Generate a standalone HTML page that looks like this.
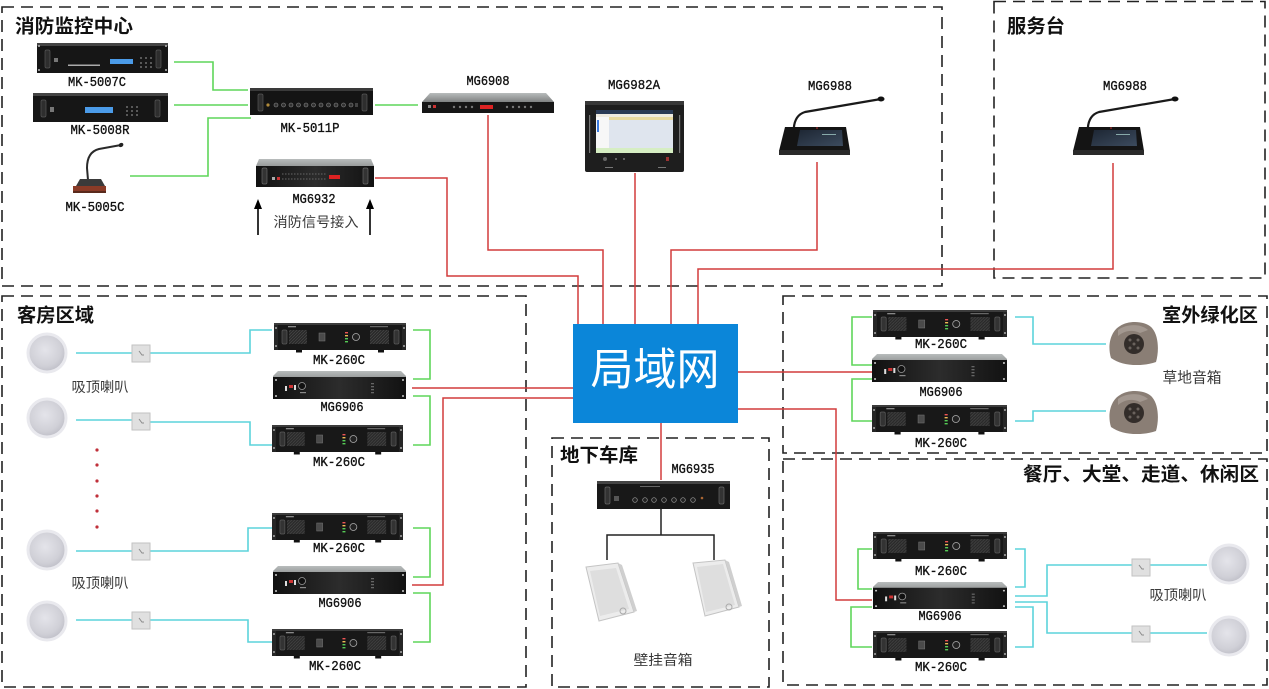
<!DOCTYPE html>
<html><head><meta charset="utf-8"><style>
html,body{margin:0;padding:0;background:#fff;width:1269px;height:689px;overflow:hidden;}
svg{display:block;}
.t{font-family:"Liberation Sans","Noto Sans CJK SC",sans-serif;font-weight:700;font-size:19px;fill:#111;}
.m{font-family:"Liberation Mono","Noto Sans CJK SC",monospace;font-size:14px;fill:#111;stroke:#111;stroke-width:0.35;}
.c{font-family:"Liberation Sans","Noto Sans CJK SC",sans-serif;font-size:14px;fill:#3a3a3a;}
.d{fill:none;stroke:#222;stroke-width:1.6;stroke-dasharray:12 7;}
.r{fill:none;stroke:#d23c3c;stroke-width:1.5;}
.g{fill:none;stroke:#5fd65a;stroke-width:1.6;}
.cy{fill:none;stroke:#5cd3db;stroke-width:1.6;}
.k{fill:none;stroke:#222;stroke-width:1.5;}
</style></head><body>
<svg width="1269" height="689" viewBox="0 0 1269 689" xmlns="http://www.w3.org/2000/svg">
<defs>
<pattern id="grill" width="3" height="3" patternUnits="userSpaceOnUse"><rect width="3" height="3" fill="#2a2a2a"/><path d="M0,3 L3,0" stroke="#4c4c4c" stroke-width="0.6"/></pattern>
<linearGradient id="lid" x1="0" y1="0" x2="0" y2="1"><stop offset="0" stop-color="#b8bcbc"/><stop offset="1" stop-color="#3a3a3a"/></linearGradient>
<linearGradient id="front" x1="0" y1="0" x2="1" y2="0"><stop offset="0" stop-color="#111"/><stop offset="0.5" stop-color="#2c2c2c"/><stop offset="1" stop-color="#121212"/></linearGradient>
<radialGradient id="spk" cx="0.45" cy="0.42" r="0.6"><stop offset="0" stop-color="#e4e4ea"/><stop offset="0.7" stop-color="#d0d0d7"/><stop offset="1" stop-color="#bdbdc6"/></radialGradient>
<linearGradient id="scr" x1="0" y1="0" x2="1" y2="1"><stop offset="0" stop-color="#1d2633"/><stop offset="1" stop-color="#3c4b5e"/></linearGradient>

<symbol id="amp" viewBox="0 0 132 30" preserveAspectRatio="none">
<rect x="0" y="0" width="132" height="27" fill="#181818"/>
<rect x="0" y="0" width="132" height="2" fill="#3c3c3c"/>
<rect x="0" y="2" width="4" height="25" fill="#262626"/>
<rect x="128" y="2" width="4" height="25" fill="#262626"/>
<circle cx="2" cy="5" r="1" fill="#aaa"/><circle cx="2" cy="23" r="1" fill="#aaa"/>
<circle cx="130" cy="5" r="1" fill="#aaa"/><circle cx="130" cy="23" r="1" fill="#aaa"/>
<rect x="8" y="7" width="5" height="14" rx="1.5" fill="#333" stroke="#5a5a5a" stroke-width="0.7"/>
<rect x="120" y="7" width="5" height="14" rx="1.5" fill="#333" stroke="#5a5a5a" stroke-width="0.7"/>
<rect x="15" y="7" width="18" height="14" fill="url(#grill)"/>
<rect x="96" y="7" width="19" height="14" fill="url(#grill)"/>
<rect x="14" y="3" width="8" height="1.3" fill="#888"/>
<rect x="96" y="3" width="18" height="1.2" fill="#666"/>
<rect x="45" y="10" width="6" height="8" fill="#4a4a4a" stroke="#777" stroke-width="0.5"/>
<rect x="71" y="9" width="3" height="1.4" fill="#e55"/><rect x="71" y="12" width="3" height="1.4" fill="#eb5"/>
<rect x="71" y="15" width="3" height="1.4" fill="#5c5"/><rect x="71" y="18" width="3" height="1.4" fill="#5c5"/>
<circle cx="82" cy="14" r="3.5" fill="#222" stroke="#aaa" stroke-width="0.8"/>
<rect x="22" y="27" width="6" height="2.5" fill="#111"/><rect x="104" y="27" width="6" height="2.5" fill="#111"/>
</symbol>

<symbol id="g906" viewBox="0 0 133 28" preserveAspectRatio="none">
<path d="M5,0 H128 L133,5 V28 H0 V5 Z" fill="url(#lid)"/>
<rect x="0" y="6" width="133" height="22" fill="url(#front)"/>
<circle cx="3" cy="9" r="1" fill="#ccc"/><circle cx="3" cy="25" r="1" fill="#ccc"/>
<circle cx="130" cy="9" r="1" fill="#ccc"/><circle cx="130" cy="25" r="1" fill="#ccc"/>
<rect x="12" y="15" width="2" height="5" fill="#ddd"/><rect x="16" y="14" width="4" height="3" fill="#c33"/>
<rect x="21" y="14" width="2" height="5" fill="#ddd"/>
<circle cx="29" cy="15" r="3.5" fill="#111" stroke="#999" stroke-width="0.8"/>
<rect x="27" y="21" width="6" height="1.2" fill="#888"/>
<rect x="98" y="12" width="3" height="1.3" fill="#666"/><rect x="98" y="15" width="3" height="1.3" fill="#666"/>
<rect x="98" y="18" width="3" height="1.3" fill="#666"/><rect x="98" y="21" width="3" height="1.3" fill="#666"/>
</symbol>
</defs>

<rect width="1269" height="689" fill="#fff"/>

<!-- dashed zones -->
<rect class="d" x="2" y="7" width="940" height="279"/>
<rect class="d" x="994" y="1.5" width="271" height="276.5"/>
<rect class="d" x="2" y="296" width="524" height="391"/>
<rect class="d" x="552" y="438" width="217" height="249"/>
<rect class="d" x="783" y="296" width="484" height="157"/>
<rect class="d" x="783" y="459" width="484" height="226"/>

<!-- titles -->
<text class="t" x="15" y="27" dominant-baseline="central" textLength="118" lengthAdjust="spacingAndGlyphs">消防监控中心</text>
<text class="t" x="1007" y="27" dominant-baseline="central" textLength="58" lengthAdjust="spacingAndGlyphs">服务台</text>
<text class="t" x="17" y="316" dominant-baseline="central" textLength="77" lengthAdjust="spacingAndGlyphs">客房区域</text>
<text class="t" x="560" y="456" dominant-baseline="central" textLength="78" lengthAdjust="spacingAndGlyphs">地下车库</text>
<text class="t" x="1162" y="316" dominant-baseline="central" textLength="96" lengthAdjust="spacingAndGlyphs">室外绿化区</text>
<text class="t" x="1023" y="475" dominant-baseline="central" textLength="236" lengthAdjust="spacingAndGlyphs">餐厅、大堂、走道、休闲区</text>

<!-- red network lines -->
<path class="r" d="M375,178 H447 V276 H578 V324"/>
<path class="r" d="M488,115 V250 H603 V324"/>
<path class="r" d="M635,173 V324"/>
<path class="r" d="M817,162 V250 H671 V324"/>
<path class="r" d="M1113,163 V269 H698 V324"/>
<path class="r" d="M412,388 H573"/>
<path class="r" d="M412,585 H443 V398 H573"/>
<path class="r" d="M738,372 H872"/>
<path class="r" d="M738,409 H836 V600 H872"/>
<path class="r" d="M661,423 V480"/>

<!-- green lines -->
<path class="g" d="M174,62 H213 V90 H248"/>
<path class="g" d="M174,105 H248"/>
<path class="g" d="M130,176 H208 V118 H251"/>
<path class="g" d="M375,105 H418"/>
<path class="g" d="M413,330 H430 V379 H413"/>
<path class="g" d="M413,396 H430 V445 H413"/>
<path class="g" d="M413,528 H430 V577 H413"/>
<path class="g" d="M413,593 H430 V642 H413"/>
<path class="g" d="M872,317 H852 V365 H872"/>
<path class="g" d="M872,379 H852 V421 H872"/>
<path class="g" d="M872,549 H858 V589 H872"/>
<path class="g" d="M872,607 H851 V647 H872"/>

<!-- cyan lines -->
<path class="cy" d="M76,353 H132 M150,353 H250 V330 H272"/>
<path class="cy" d="M76,420 H132 M150,422 H250 V445 H272"/>
<path class="cy" d="M76,551 H132 M150,551 H248 V528 H272"/>
<path class="cy" d="M76,620 H132 M150,620 H248 V642 H272"/>
<path class="cy" d="M1015,317 H1033 V344 H1106"/>
<path class="cy" d="M1015,421 H1033 V411 H1106"/>
<path class="cy" d="M1015,549 H1025 V587 H1015"/>
<path class="cy" d="M1015,607 H1033 V647 H1015"/>
<path class="cy" d="M1015,596 H1047 V565 H1132"/>
<path class="cy" d="M1015,602 H1047 V633 H1132"/>
<path class="cy" d="M1150,565 H1207 M1150,633 H1207"/>

<!-- black lines garage -->
<path class="k" d="M661,509 V535 M607,560 V535 H714 V560"/>

<!-- LAN -->
<rect x="573" y="324" width="165" height="99" fill="#0b86d9"/>
<text x="655" y="370" text-anchor="middle" dominant-baseline="central" textLength="129" lengthAdjust="spacingAndGlyphs" style="font-family:'Liberation Sans','Noto Sans CJK SC',sans-serif;font-size:44px;fill:#fff;">局域网</text>

<!-- MK-5007C -->
<rect x="37" y="43" width="131" height="30" fill="#161616"/>
<rect x="37" y="43" width="131" height="3" fill="#444"/>
<rect x="45" y="50" width="5" height="18" rx="1.5" fill="#2e2e2e" stroke="#555" stroke-width="0.7"/>
<rect x="156" y="50" width="5" height="18" rx="1.5" fill="#2e2e2e" stroke="#555" stroke-width="0.7"/>
<circle cx="39" cy="46" r="1" fill="#bbb"/><circle cx="39" cy="70" r="1" fill="#bbb"/><circle cx="166" cy="46" r="1" fill="#bbb"/><circle cx="166" cy="70" r="1" fill="#bbb"/>
<rect x="54" y="58" width="4" height="4" fill="#777"/>
<rect x="68" y="64.5" width="32" height="1.5" fill="#aaa"/>
<rect x="110" y="59" width="23" height="5" fill="#4b9be8"/>
<g fill="#888"><circle cx="141" cy="58" r="0.9"/><circle cx="146" cy="58" r="0.9"/><circle cx="151" cy="58" r="0.9"/><circle cx="141" cy="63" r="0.9"/><circle cx="146" cy="63" r="0.9"/><circle cx="151" cy="63" r="0.9"/><circle cx="141" cy="67" r="0.9"/><circle cx="146" cy="67" r="0.9"/><circle cx="151" cy="67" r="0.9"/></g>
<text class="m" x="97" y="83" text-anchor="middle" dominant-baseline="central" textLength="58" lengthAdjust="spacingAndGlyphs">MK-5007C</text>

<!-- MK-5008R -->
<rect x="33" y="93" width="135" height="29" fill="#161616"/>
<rect x="33" y="93" width="135" height="3" fill="#444"/>
<rect x="41" y="100" width="5" height="17" rx="1.5" fill="#2e2e2e" stroke="#555" stroke-width="0.7"/>
<rect x="155" y="100" width="5" height="17" rx="1.5" fill="#2e2e2e" stroke="#555" stroke-width="0.7"/>
<rect x="50" y="107" width="4" height="5" fill="#777"/>
<rect x="85" y="107" width="28" height="6" fill="#4b9be8"/>
<g fill="#888"><circle cx="127" cy="107" r="0.9"/><circle cx="132" cy="107" r="0.9"/><circle cx="137" cy="107" r="0.9"/><circle cx="127" cy="111" r="0.9"/><circle cx="132" cy="111" r="0.9"/><circle cx="137" cy="111" r="0.9"/><circle cx="127" cy="115" r="0.9"/><circle cx="132" cy="115" r="0.9"/><circle cx="137" cy="115" r="0.9"/></g>
<text class="m" x="100" y="131" text-anchor="middle" dominant-baseline="central" textLength="59" lengthAdjust="spacingAndGlyphs">MK-5008R</text>

<!-- MK-5005C mic -->
<path d="M88,180 L87,168 Q87,152 99,149 L121,145" fill="none" stroke="#2a2a2a" stroke-width="2"/>
<ellipse cx="121" cy="145" rx="2.5" ry="2" fill="#222" transform="rotate(-30 121 145)"/>
<path d="M76,186 L80,179 H101 L105,186 Z" fill="#3a3a3a"/>
<path d="M73,186 H106 V192 H73 Z" fill="#8a3b27"/>
<rect x="73" y="191" width="33" height="2" fill="#5a2a1c"/>
<text class="m" x="95" y="208" text-anchor="middle" dominant-baseline="central" textLength="59" lengthAdjust="spacingAndGlyphs">MK-5005C</text>

<!-- MK-5011P -->
<rect x="250" y="88" width="123" height="27" fill="#141414"/>
<rect x="250" y="88" width="123" height="3" fill="#3a3a3a"/>
<rect x="258" y="94" width="5" height="17" rx="1.5" fill="#2e2e2e" stroke="#555" stroke-width="0.7"/>
<rect x="362" y="94" width="5" height="17" rx="1.5" fill="#2e2e2e" stroke="#555" stroke-width="0.7"/>
<circle cx="268" cy="105" r="1.6" fill="#b08a3a"/>
<g fill="#333" stroke="#888" stroke-width="0.6"><circle cx="276" cy="105" r="2"/><circle cx="283.5" cy="105" r="2"/><circle cx="291" cy="105" r="2"/><circle cx="298.5" cy="105" r="2"/><circle cx="306" cy="105" r="2"/><circle cx="313.5" cy="105" r="2"/><circle cx="321" cy="105" r="2"/><circle cx="328.5" cy="105" r="2"/><circle cx="336" cy="105" r="2"/><circle cx="343.5" cy="105" r="2"/><circle cx="351" cy="105" r="2"/></g>
<rect x="355" y="103" width="3" height="4" fill="#444"/>
<text class="m" x="310" y="129" text-anchor="middle" dominant-baseline="central" textLength="59" lengthAdjust="spacingAndGlyphs">MK-5011P</text>

<!-- MG6932 -->
<path d="M259,159 H371 L374,166 V187 H256 V166 Z" fill="url(#lid)"/>
<rect x="256" y="166" width="118" height="21" fill="url(#front)"/>
<rect x="262" y="168" width="5" height="16" rx="1.5" fill="#333" stroke="#666" stroke-width="0.7"/>
<rect x="363" y="168" width="5" height="16" rx="1.5" fill="#333" stroke="#666" stroke-width="0.7"/>
<rect x="272" y="177" width="3" height="3" fill="#aaa"/><rect x="277" y="177" width="3" height="3" fill="#c33"/>
<path d="M282,174 H327 M282,179 H327" stroke="#666" stroke-width="1" stroke-dasharray="1.5 1.5"/>
<rect x="329" y="175" width="11" height="4" fill="#d22"/>
<text class="m" x="314" y="200" text-anchor="middle" dominant-baseline="central" textLength="43" lengthAdjust="spacingAndGlyphs">MG6932</text>
<text class="c" x="316" y="222" text-anchor="middle" dominant-baseline="central" textLength="85" lengthAdjust="spacingAndGlyphs">消防信号接入</text>
<!-- arrows -->
<path d="M258,235 V206" stroke="#000" stroke-width="1.6"/>
<path d="M254,209 L258,199 L262,209 Z" fill="#000"/>
<path d="M370,235 V206" stroke="#000" stroke-width="1.6"/>
<path d="M366,209 L370,199 L374,209 Z" fill="#000"/>

<!-- MG6908 -->
<path d="M430,93 H546 L554,102 V113 H422 V102 Z" fill="url(#lid)"/>
<rect x="422" y="102" width="132" height="11" fill="#161616"/>
<rect x="428" y="105" width="3" height="3" fill="#888"/><rect x="433" y="105" width="3" height="3" fill="#c33"/>
<g fill="#777"><circle cx="454" cy="107" r="1.2"/><circle cx="460" cy="107" r="1.2"/><circle cx="466" cy="107" r="1.2"/><circle cx="472" cy="107" r="1.2"/><circle cx="507" cy="107" r="1.2"/><circle cx="513" cy="107" r="1.2"/><circle cx="519" cy="107" r="1.2"/><circle cx="525" cy="107" r="1.2"/><circle cx="531" cy="107" r="1.2"/></g>
<rect x="480" y="105" width="13" height="4" fill="#d22"/>
<text class="m" x="488" y="82" text-anchor="middle" dominant-baseline="central" textLength="43" lengthAdjust="spacingAndGlyphs">MG6908</text>

<!-- MG6982A -->
<rect x="585" y="101" width="99" height="71" rx="2" fill="#1e1e1e"/>
<rect x="585" y="101" width="99" height="4" fill="#383838"/>
<rect x="589" y="115" width="1.2" height="38" fill="#777"/><rect x="679" y="115" width="1.2" height="38" fill="#777"/>
<rect x="596" y="110" width="77" height="43" fill="#dfe5ee"/>
<rect x="596" y="110" width="77" height="4" fill="#2a3a55"/>
<rect x="596" y="114" width="77" height="3" fill="#eeeae0"/>
<rect x="596" y="117" width="13" height="33" fill="#f7f7f7"/>
<rect x="597" y="120" width="2" height="12" fill="#3a7be0"/>
<rect x="609" y="117" width="64" height="3" fill="#e8d9a0"/>
<rect x="596" y="148" width="77" height="5" fill="#d6eec3"/>
<circle cx="605" cy="159" r="2" fill="#666"/><circle cx="616" cy="159" r="1" fill="#777"/><circle cx="624" cy="159" r="1" fill="#777"/>
<rect x="666" y="157" width="3" height="4" fill="#933"/>
<rect x="605" y="167" width="8" height="1" fill="#777"/><rect x="658" y="167" width="8" height="1" fill="#777"/>
<text class="m" x="634" y="86" text-anchor="middle" dominant-baseline="central" textLength="52" lengthAdjust="spacingAndGlyphs">MG6982A</text>

<!-- MG6988 left -->
<path d="M794,136 Q792,116 805,112 L881,99" fill="none" stroke="#1a1a1a" stroke-width="2.2"/>
<ellipse cx="881" cy="99" rx="3.5" ry="2.5" fill="#111"/>
<path d="M785,127 H846 L850,151 H779 Z" fill="#141414"/>
<rect x="779" y="150" width="71" height="5" fill="#2a2a2a"/>
<path d="M800,130 H842 L843,146 H797 Z" fill="url(#scr)"/>
<rect x="822" y="134" width="14" height="1" fill="#8aa"/>
<circle cx="817" cy="128" r="0.8" fill="#c33"/>
<text class="m" x="830" y="87" text-anchor="middle" dominant-baseline="central" textLength="44" lengthAdjust="spacingAndGlyphs">MG6988</text>

<!-- MG6988 right -->
<path d="M1088,136 Q1086,116 1099,112 L1175,99" fill="none" stroke="#1a1a1a" stroke-width="2.2"/>
<ellipse cx="1175" cy="99" rx="3.5" ry="2.5" fill="#111"/>
<path d="M1079,127 H1140 L1144,151 H1073 Z" fill="#141414"/>
<rect x="1073" y="150" width="71" height="5" fill="#2a2a2a"/>
<path d="M1094,130 H1136 L1137,146 H1091 Z" fill="url(#scr)"/>
<rect x="1116" y="134" width="14" height="1" fill="#8aa"/>
<circle cx="1111" cy="128" r="0.8" fill="#c33"/>
<text class="m" x="1125" y="87" text-anchor="middle" dominant-baseline="central" textLength="44" lengthAdjust="spacingAndGlyphs">MG6988</text>

<!-- ceiling speakers -->
<g stroke="#e9e9ee" stroke-width="3">
<circle cx="47" cy="353" r="19" fill="url(#spk)"/>
<circle cx="47" cy="418" r="19" fill="url(#spk)"/>
<circle cx="47" cy="550" r="19" fill="url(#spk)"/>
<circle cx="47" cy="621" r="19" fill="url(#spk)"/>
<circle cx="1229" cy="564" r="19" fill="url(#spk)"/>
<circle cx="1229" cy="636" r="19" fill="url(#spk)"/>
</g>
<!-- switches -->
<g fill="#e0e0e0" stroke="#c2c2c2" stroke-width="1">
<rect x="132" y="345" width="18" height="17"/>
<rect x="132" y="413" width="18" height="17"/>
<rect x="132" y="543" width="18" height="17"/>
<rect x="132" y="612" width="18" height="17"/>
<rect x="1132" y="559" width="18" height="17"/>
<rect x="1132" y="626" width="18" height="16"/>
</g>
<g fill="none" stroke="#8a8a8a" stroke-width="1">
<path d="M139,351 l3,4 l2,0"/><path d="M139,419 l3,4 l2,0"/><path d="M139,549 l3,4 l2,0"/><path d="M139,618 l3,4 l2,0"/>
<path d="M1139,565 l3,4 l2,0"/><path d="M1139,631 l3,4 l2,0"/>
</g>
<text class="c" x="100" y="387" text-anchor="middle" dominant-baseline="central" textLength="57" lengthAdjust="spacingAndGlyphs">吸顶喇叭</text>
<text class="c" x="100" y="583" text-anchor="middle" dominant-baseline="central" textLength="57" lengthAdjust="spacingAndGlyphs">吸顶喇叭</text>
<text class="c" x="1178" y="595" text-anchor="middle" dominant-baseline="central" textLength="57" lengthAdjust="spacingAndGlyphs">吸顶喇叭</text>
<g fill="#c0303a"><circle cx="97" cy="450" r="1.6"/><circle cx="97" cy="465" r="1.6"/><circle cx="97" cy="481" r="1.6"/><circle cx="97" cy="496" r="1.6"/><circle cx="97" cy="511" r="1.6"/><circle cx="97" cy="527" r="1.6"/></g>

<!-- 客房 amps -->
<use href="#amp" x="274" y="323" width="132" height="30"/>
<use href="#g906" x="273" y="371" width="133" height="28"/>
<use href="#amp" x="272" y="425" width="131" height="30"/>
<use href="#amp" x="272" y="513" width="131" height="30"/>
<use href="#g906" x="273" y="566" width="133" height="28"/>
<use href="#amp" x="272" y="629" width="131" height="30"/>
<text class="m" x="339" y="361" text-anchor="middle" dominant-baseline="central" textLength="52" lengthAdjust="spacingAndGlyphs">MK-260C</text>
<text class="m" x="342" y="408" text-anchor="middle" dominant-baseline="central" textLength="43" lengthAdjust="spacingAndGlyphs">MG6906</text>
<text class="m" x="339" y="463" text-anchor="middle" dominant-baseline="central" textLength="52" lengthAdjust="spacingAndGlyphs">MK-260C</text>
<text class="m" x="339" y="549" text-anchor="middle" dominant-baseline="central" textLength="52" lengthAdjust="spacingAndGlyphs">MK-260C</text>
<text class="m" x="340" y="604" text-anchor="middle" dominant-baseline="central" textLength="43" lengthAdjust="spacingAndGlyphs">MG6906</text>
<text class="m" x="335" y="667" text-anchor="middle" dominant-baseline="central" textLength="52" lengthAdjust="spacingAndGlyphs">MK-260C</text>

<!-- 地下车库 -->
<rect x="597" y="481" width="133" height="28" fill="#181818"/>
<rect x="597" y="481" width="133" height="3" fill="#444"/>
<rect x="605" y="487" width="5" height="17" rx="1.5" fill="#333" stroke="#666" stroke-width="0.7"/>
<rect x="719" y="487" width="5" height="17" rx="1.5" fill="#333" stroke="#666" stroke-width="0.7"/>
<rect x="614" y="496" width="5" height="5" fill="#555"/>
<g fill="#222" stroke="#999" stroke-width="0.7"><circle cx="635" cy="500" r="2.3"/><circle cx="645" cy="500" r="2.3"/><circle cx="654" cy="500" r="2.3"/><circle cx="664" cy="500" r="2.3"/><circle cx="674" cy="500" r="2.3"/><circle cx="683" cy="500" r="2.3"/><circle cx="693" cy="500" r="2.3"/></g>
<circle cx="702" cy="498" r="1.3" fill="#a63"/>
<rect x="640" y="486" width="20" height="1" fill="#666"/>
<text class="m" x="693" y="470" text-anchor="middle" dominant-baseline="central" textLength="43" lengthAdjust="spacingAndGlyphs">MG6935</text>
<!-- wall speakers -->
<path d="M586,567 L618,563 L634,612 L599,621 Z" fill="#ececec" stroke="#c4c4c4" stroke-width="1"/>
<path d="M618,563 L622,565 L637,611 L634,612 Z" fill="#cfcfcf"/>
<path d="M590,571 L616,568 L629,609 L600,616 Z" fill="#dedede"/>
<circle cx="623" cy="611" r="3" fill="none" stroke="#aaa"/>
<path d="M693,563 L725,560 L739,607 L705,616 Z" fill="#ececec" stroke="#c4c4c4" stroke-width="1"/>
<path d="M725,560 L729,562 L742,606 L739,607 Z" fill="#cfcfcf"/>
<path d="M697,567 L723,564 L735,605 L706,612 Z" fill="#dedede"/>
<circle cx="729" cy="607" r="3" fill="none" stroke="#aaa"/>
<text class="c" x="663" y="660" text-anchor="middle" dominant-baseline="central" textLength="59" lengthAdjust="spacingAndGlyphs">壁挂音箱</text>

<!-- 室外绿化区 -->
<use href="#amp" x="873" y="310" width="134" height="30"/>
<use href="#g906" x="872" y="354" width="135" height="28"/>
<use href="#amp" x="872" y="405" width="135" height="30"/>
<text class="m" x="941" y="345" text-anchor="middle" dominant-baseline="central" textLength="52" lengthAdjust="spacingAndGlyphs">MK-260C</text>
<text class="m" x="941" y="393" text-anchor="middle" dominant-baseline="central" textLength="43" lengthAdjust="spacingAndGlyphs">MG6906</text>
<text class="m" x="941" y="444" text-anchor="middle" dominant-baseline="central" textLength="52" lengthAdjust="spacingAndGlyphs">MK-260C</text>
<!-- rocks -->
<path d="M1111,358 C1107,345 1111,331 1120,326 C1129,320 1146,321 1152,328 C1159,336 1159,352 1156,362 C1141,367 1122,366 1111,358 Z" fill="#8a7e75"/>
<path d="M1118,330 C1126,324 1140,323 1148,330 L1140,333 C1132,329 1124,331 1118,336 Z" fill="#a39890"/>
<circle cx="1134" cy="344" r="10" fill="#332d2a"/>
<g fill="#6a625d"><circle cx="1130" cy="340" r="1.5"/><circle cx="1138" cy="340" r="1.5"/><circle cx="1130" cy="348" r="1.5"/><circle cx="1138" cy="348" r="1.5"/><circle cx="1134" cy="344" r="1.5"/></g>
<path d="M1111,427 C1107,414 1111,400 1120,395 C1129,389 1146,390 1152,397 C1159,405 1159,421 1156,431 C1141,436 1122,435 1111,427 Z" fill="#8a7e75"/>
<path d="M1118,399 C1126,393 1140,392 1148,399 L1140,402 C1132,398 1124,400 1118,405 Z" fill="#a39890"/>
<circle cx="1134" cy="413" r="10" fill="#332d2a"/>
<g fill="#6a625d"><circle cx="1130" cy="409" r="1.5"/><circle cx="1138" cy="409" r="1.5"/><circle cx="1130" cy="417" r="1.5"/><circle cx="1138" cy="417" r="1.5"/><circle cx="1134" cy="413" r="1.5"/></g>
<text class="c" x="1192" y="378" text-anchor="middle" dominant-baseline="central" textLength="59" lengthAdjust="spacingAndGlyphs" style="font-size:15px">草地音箱</text>

<!-- 餐厅 -->
<use href="#amp" x="873" y="532" width="134" height="30"/>
<use href="#g906" x="873" y="582" width="134" height="27"/>
<use href="#amp" x="873" y="631" width="134" height="30"/>
<text class="m" x="941" y="572" text-anchor="middle" dominant-baseline="central" textLength="52" lengthAdjust="spacingAndGlyphs">MK-260C</text>
<text class="m" x="940" y="617" text-anchor="middle" dominant-baseline="central" textLength="43" lengthAdjust="spacingAndGlyphs">MG6906</text>
<text class="m" x="941" y="668" text-anchor="middle" dominant-baseline="central" textLength="52" lengthAdjust="spacingAndGlyphs">MK-260C</text>
</svg>
</body></html>
